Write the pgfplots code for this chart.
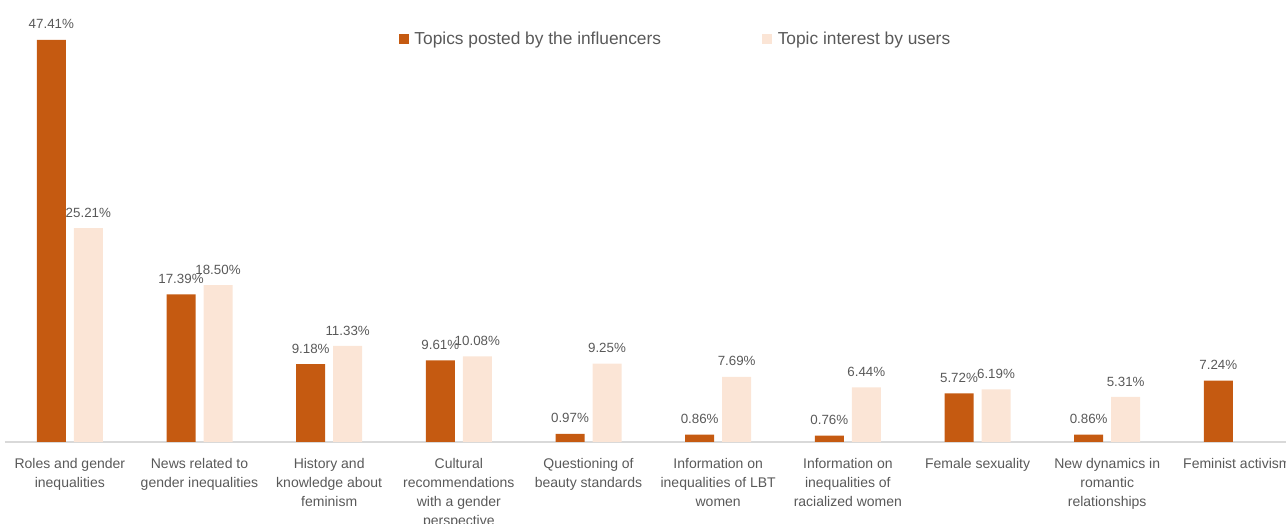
\documentclass[border=0pt]{standalone}
\usepackage{pgfplots}
\pgfplotsset{compat=1.18}
\usepackage{fontspec}
\setmainfont{Liberation Sans}
\definecolor{posted}{HTML}{C55A11}
\definecolor{interest}{HTML}{FBE5D6}
\definecolor{txt}{HTML}{595959}
\definecolor{axisgrey}{HTML}{D9D9D9}
\begin{document}
\begin{tikzpicture}
\begin{axis}[
    at={(3.75pt,61.5pt)}, anchor=south west,
    scale only axis,
    width=960.75pt, height=331.5pt,
    xmin=-0.5, xmax=9.379,
    ymin=0, ymax=52.1,
    clip=false,
    axis x line*=bottom,
    axis y line=none,
    x axis line style={axisgrey, line width=1.1pt, -},
    xtick={0,...,9},
    major tick length=0pt,
    xticklabels={
        {Roles and gender\\inequalities},
        {News related to\\gender inequalities},
        {History and\\knowledge about\\feminism},
        {Cultural\\recommendations\\with a gender\\perspective},
        {Questioning of\\beauty standards},
        {Information on\\inequalities of LBT\\women},
        {Information on\\inequalities of\\racialized women},
        {Female sexuality},
        {New dynamics in\\romantic\\relationships},
        {Feminist activism}},
    xticklabel style={align=center, text=txt,
        font=\fontsize{10.5}{14.25}\selectfont, yshift=-8.5pt},
    ybar=6pt, bar width=21.75pt,
    nodes near coords={\pgfmathprintnumber[fixed,fixed zerofill,precision=2]{\pgfplotspointmeta}\%},
    /pgf/number format/assume math mode=true,
    every node near coord/.append style={text=txt,
        font=\fontsize{10}{12}\selectfont, anchor=south, yshift=4.5pt},
    legend style={at={(0.5238,0.912)}, anchor=center, draw=none, fill=none,
        font=\fontsize{13}{15}\selectfont, text=txt,
        /tikz/every odd column/.append style={column sep=2pt},
        /tikz/every even column/.append style={column sep=74pt}},
    legend columns=2,
    legend cell align=left,
    legend image code/.code={\fill[#1] (0pt,-3.75pt) rectangle (7.5pt,3.75pt);},
]
\addplot[fill=posted, draw=none] coordinates {
    (0,47.41) (1,17.39) (2,9.18) (3,9.61) (4,0.97)
    (5,0.86) (6,0.76) (7,5.72) (8,0.86) (9,7.24)};
\addplot[fill=interest, draw=none] coordinates {
    (0,25.21) (1,18.50) (2,11.33) (3,10.08) (4,9.25)
    (5,7.69) (6,6.44) (7,6.19) (8,5.31)};
\legend{Topics posted by the influencers, Topic interest by users}
\end{axis}
\pgfresetboundingbox
\useasboundingbox (0,0) rectangle (964.5pt,393pt);
\end{tikzpicture}
\end{document}
